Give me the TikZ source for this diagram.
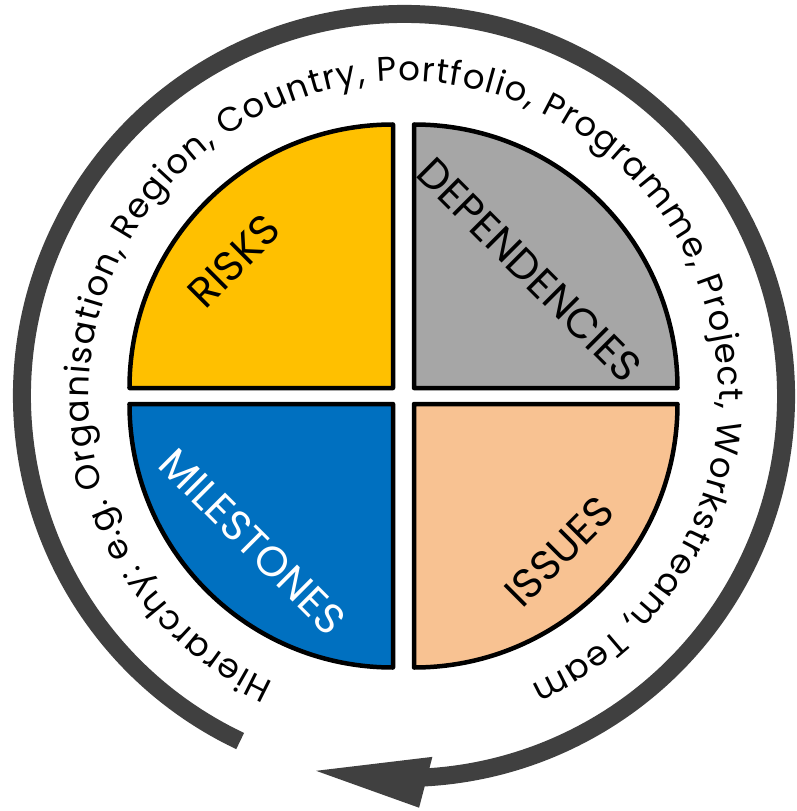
\documentclass[tikz,border=0pt]{standalone}
\usepackage{fontspec}
\setmainfont{Poppins}
\usetikzlibrary{decorations.text}

\definecolor{riskyellow}{HTML}{FFC000}
\definecolor{depgray}{HTML}{A6A6A6}
\definecolor{mileblue}{HTML}{0070C0}
\definecolor{issuepeach}{HTML}{F8C292}
\definecolor{ringgray}{HTML}{404040}

\tikzset{
  quarter/.style={draw=black, line width=4.5pt, line join=round},
  qlabel/.style={font=\fontsize{42}{44}\selectfont, inner sep=0pt, anchor=center},
  ring/.style={draw=ringgray, line width=18pt, line cap=butt}
}

\begin{document}
\begin{tikzpicture}[x=1pt, y=1pt]
  % canvas, origin at the centre of the wheel
  \useasboundingbox (-404,-415) rectangle (392,396);

  % four quarter discs
  \path[quarter, fill=riskyellow]
    (-11,8) -- ++(-263.5,0) arc[start angle=180, end angle=90, radius=263.5] -- cycle;
  \path[quarter, fill=depgray]
    (10,8) -- ++(0,263.5) arc[start angle=90, end angle=0, radius=263.5] -- cycle;
  \path[quarter, fill=mileblue]
    (-11,-8) -- ++(0,-263.5) arc[start angle=270, end angle=180, radius=263.5] -- cycle;
  \path[quarter, fill=issuepeach]
    (10,-8) -- ++(263.5,0) arc[start angle=0, end angle=-90, radius=263.5] -- cycle;

  % quarter labels
  \node[qlabel, rotate=45] (risks) at (-170,135) {RISKS};
  \node[qlabel, rotate=-45] (deps) at (125.5,126) {DEPENDENCIES};
  \node[qlabel, rotate=-45, text=white] (miles) at (-151.5,-145.5) {MILESTONES};
  \node[qlabel, rotate=45] (issues) at (155.5,-155.5) {ISSUES};

  % circular arrow around the wheel
  \draw[ring] (244.6:382) arc[start angle=244.6, end angle=-87.5, radius=382];
  \fill[ringgray] (-103.2:385) -- (-85.5:362) -- (-87.9:412) -- cycle;

  % curved hierarchy caption
  \path[decorate, decoration={text along path, text align=fit to path,
      text={|\fontsize{34}{36}\selectfont|Hierarchy: e.g. Organisation, Region, Country, Portfolio, Programme, Project, Workstream, Team}}]
    (245.5:315) arc[start angle=245.5, end angle=-66.3, radius=315];
\end{tikzpicture}
\end{document}
